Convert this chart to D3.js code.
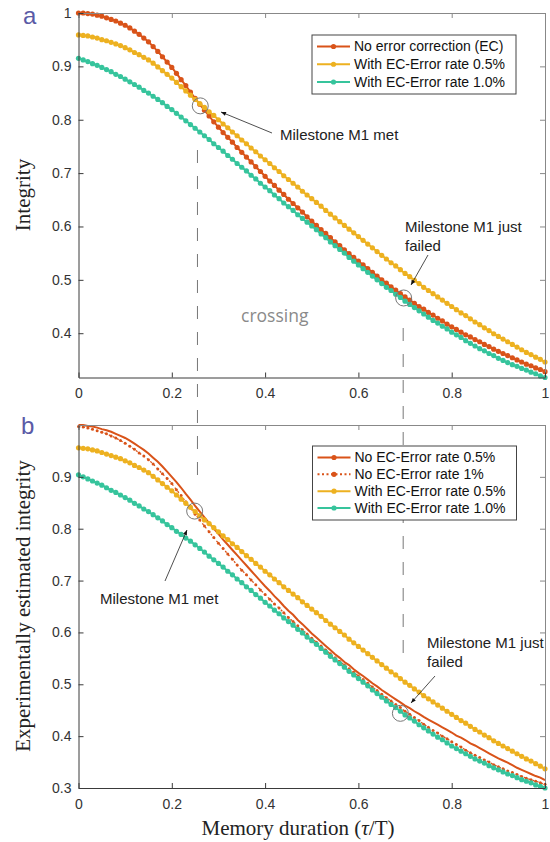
<!DOCTYPE html>
<html>
<head>
<meta charset="utf-8">
<script src="https://cdn.jsdelivr.net/npm/d3@7"></script>
<style>
  body { margin: 0; background: #fff; }
</style>
</head>
<body>
<div id="chart"></div>
<script>
// sample step along tau/T (101 samples from 0 to 1)
var tStep = 0.01;

// panel a
var noEC_a = [
  1.000, 1.000, 0.999, 0.998, 0.996, 0.994, 0.991, 0.988, 0.985, 0.981,
  0.977, 0.972, 0.966, 0.960, 0.953, 0.946, 0.937, 0.928, 0.918, 0.908,
  0.898, 0.887, 0.875, 0.864, 0.852, 0.840, 0.829, 0.818, 0.807, 0.796,
  0.786, 0.776, 0.767, 0.758, 0.748, 0.739, 0.730, 0.721, 0.712, 0.703,
  0.694, 0.685, 0.677, 0.668, 0.660, 0.651, 0.643, 0.635, 0.627, 0.618,
  0.610, 0.602, 0.594, 0.587, 0.579, 0.571, 0.564, 0.556, 0.549, 0.542,
  0.535, 0.528, 0.521, 0.514, 0.507, 0.500, 0.494, 0.487, 0.481, 0.474,
  0.468, 0.462, 0.456, 0.450, 0.445, 0.439, 0.434, 0.428, 0.423, 0.417,
  0.412, 0.407, 0.402, 0.397, 0.393, 0.388, 0.384, 0.379, 0.375, 0.370,
  0.366, 0.362, 0.358, 0.354, 0.350, 0.346, 0.342, 0.339, 0.335, 0.332,
  0.328];
var ec05_a = [
  0.959, 0.958, 0.957, 0.955, 0.953, 0.950, 0.948, 0.945, 0.942, 0.939,
  0.935, 0.931, 0.926, 0.922, 0.917, 0.912, 0.906, 0.899, 0.892, 0.885,
  0.878, 0.870, 0.862, 0.854, 0.846, 0.838, 0.830, 0.823, 0.815, 0.808,
  0.800, 0.792, 0.785, 0.777, 0.770, 0.762, 0.755, 0.747, 0.740, 0.732,
  0.725, 0.718, 0.710, 0.703, 0.695, 0.688, 0.681, 0.674, 0.666, 0.659,
  0.652, 0.645, 0.638, 0.630, 0.623, 0.616, 0.609, 0.602, 0.595, 0.588,
  0.581, 0.574, 0.567, 0.560, 0.553, 0.546, 0.539, 0.532, 0.526, 0.519,
  0.512, 0.506, 0.499, 0.493, 0.486, 0.480, 0.474, 0.468, 0.462, 0.456,
  0.450, 0.444, 0.438, 0.433, 0.427, 0.421, 0.416, 0.410, 0.405, 0.399,
  0.394, 0.389, 0.384, 0.379, 0.374, 0.369, 0.364, 0.360, 0.355, 0.351,
  0.346];
var ec10_a = [
  0.915, 0.912, 0.909, 0.905, 0.902, 0.898, 0.894, 0.890, 0.885, 0.881,
  0.876, 0.871, 0.866, 0.861, 0.855, 0.850, 0.844, 0.838, 0.832, 0.825,
  0.819, 0.812, 0.805, 0.798, 0.791, 0.784, 0.777, 0.770, 0.763, 0.755,
  0.748, 0.741, 0.733, 0.726, 0.718, 0.711, 0.704, 0.696, 0.689, 0.681,
  0.674, 0.667, 0.659, 0.652, 0.644, 0.637, 0.630, 0.622, 0.615, 0.608,
  0.601, 0.594, 0.586, 0.579, 0.571, 0.564, 0.557, 0.550, 0.542, 0.535,
  0.528, 0.521, 0.514, 0.507, 0.500, 0.493, 0.486, 0.480, 0.473, 0.467,
  0.460, 0.454, 0.448, 0.442, 0.436, 0.430, 0.424, 0.419, 0.413, 0.408,
  0.402, 0.397, 0.392, 0.386, 0.381, 0.376, 0.371, 0.367, 0.362, 0.358,
  0.353, 0.349, 0.345, 0.341, 0.338, 0.334, 0.331, 0.327, 0.324, 0.320,
  0.317];

// panel b
var noEC05_b = [
  1.000, 1.000, 0.998, 0.997, 0.995, 0.992, 0.990, 0.987, 0.983, 0.979,
  0.975, 0.970, 0.964, 0.958, 0.952, 0.945, 0.937, 0.929, 0.920, 0.910,
  0.900, 0.890, 0.879, 0.867, 0.856, 0.844, 0.833, 0.822, 0.811, 0.800,
  0.790, 0.779, 0.769, 0.759, 0.749, 0.739, 0.729, 0.719, 0.709, 0.699,
  0.689, 0.680, 0.670, 0.661, 0.651, 0.642, 0.634, 0.624, 0.616, 0.607,
  0.598, 0.590, 0.582, 0.574, 0.566, 0.558, 0.551, 0.543, 0.537, 0.529,
  0.522, 0.516, 0.509, 0.502, 0.496, 0.489, 0.483, 0.477, 0.471, 0.465,
  0.459, 0.454, 0.448, 0.443, 0.437, 0.432, 0.427, 0.422, 0.417, 0.412,
  0.407, 0.401, 0.397, 0.392, 0.386, 0.382, 0.377, 0.372, 0.367, 0.362,
  0.357, 0.353, 0.349, 0.344, 0.339, 0.335, 0.331, 0.327, 0.323, 0.320,
  0.315];
var noEC1_b = [
  0.997, 0.996, 0.994, 0.992, 0.989, 0.986, 0.983, 0.979, 0.975, 0.970,
  0.965, 0.959, 0.953, 0.946, 0.940, 0.933, 0.925, 0.915, 0.906, 0.897,
  0.887, 0.875, 0.864, 0.852, 0.840, 0.828, 0.817, 0.805, 0.794, 0.783,
  0.772, 0.762, 0.751, 0.741, 0.730, 0.720, 0.711, 0.701, 0.692, 0.682,
  0.673, 0.664, 0.655, 0.647, 0.638, 0.629, 0.621, 0.613, 0.605, 0.597,
  0.589, 0.581, 0.574, 0.566, 0.559, 0.551, 0.544, 0.537, 0.530, 0.523,
  0.516, 0.509, 0.502, 0.495, 0.488, 0.481, 0.474, 0.468, 0.461, 0.455,
  0.448, 0.442, 0.436, 0.430, 0.423, 0.417, 0.411, 0.406, 0.400, 0.395,
  0.389, 0.384, 0.379, 0.373, 0.368, 0.363, 0.359, 0.354, 0.350, 0.345,
  0.341, 0.337, 0.333, 0.330, 0.326, 0.322, 0.319, 0.316, 0.313, 0.310,
  0.307];
var ec05_b = [
  0.956, 0.955, 0.954, 0.952, 0.950, 0.947, 0.944, 0.941, 0.938, 0.935,
  0.931, 0.927, 0.922, 0.918, 0.913, 0.908, 0.901, 0.894, 0.887, 0.880,
  0.873, 0.865, 0.857, 0.849, 0.841, 0.833, 0.825, 0.817, 0.810, 0.802,
  0.794, 0.786, 0.779, 0.771, 0.764, 0.756, 0.748, 0.741, 0.733, 0.726,
  0.718, 0.711, 0.703, 0.696, 0.688, 0.681, 0.674, 0.667, 0.659, 0.652,
  0.645, 0.638, 0.631, 0.623, 0.616, 0.609, 0.602, 0.595, 0.587, 0.580,
  0.573, 0.566, 0.559, 0.552, 0.545, 0.538, 0.531, 0.524, 0.518, 0.511,
  0.504, 0.498, 0.491, 0.485, 0.478, 0.472, 0.466, 0.460, 0.454, 0.448,
  0.442, 0.436, 0.430, 0.425, 0.419, 0.413, 0.408, 0.402, 0.397, 0.391,
  0.386, 0.381, 0.376, 0.371, 0.366, 0.361, 0.356, 0.352, 0.347, 0.342,
  0.337];
var ec10_b = [
  0.904, 0.900, 0.896, 0.892, 0.888, 0.884, 0.879, 0.874, 0.870, 0.865,
  0.860, 0.855, 0.849, 0.844, 0.838, 0.833, 0.827, 0.821, 0.815, 0.808,
  0.802, 0.795, 0.789, 0.782, 0.776, 0.769, 0.762, 0.755, 0.747, 0.740,
  0.733, 0.726, 0.718, 0.711, 0.703, 0.696, 0.688, 0.681, 0.673, 0.666,
  0.658, 0.651, 0.643, 0.636, 0.628, 0.621, 0.614, 0.606, 0.599, 0.591,
  0.584, 0.577, 0.569, 0.562, 0.554, 0.547, 0.540, 0.533, 0.525, 0.518,
  0.511, 0.504, 0.497, 0.489, 0.482, 0.475, 0.468, 0.461, 0.455, 0.448,
  0.441, 0.435, 0.429, 0.422, 0.416, 0.410, 0.404, 0.398, 0.393, 0.387,
  0.381, 0.376, 0.371, 0.366, 0.361, 0.356, 0.352, 0.348, 0.343, 0.339,
  0.335, 0.331, 0.327, 0.324, 0.320, 0.316, 0.313, 0.310, 0.306, 0.303,
  0.300];

var xTicks = [0, 0.2, 0.4, 0.6, 0.8, 1];
var yTicksA = [0.4, 0.5, 0.6, 0.7, 0.8, 0.9, 1];
var yTicksB = [0.3, 0.4, 0.5, 0.6, 0.7, 0.8, 0.9];
var legendA = ["No error correction (EC)", "With EC-Error rate 0.5%", "With EC-Error rate 1.0%"];
var legendB = ["No EC-Error rate 0.5%", "No EC-Error rate 1%", "With EC-Error rate 0.5%", "With EC-Error rate 1.0%"];
// milestone points [tau/T, integrity]
var milestonesA = [[0.261, 0.826], [0.697, 0.466]];
var milestonesB = [[0.249, 0.834], [0.690, 0.444]];

var RED = "#d95319", YEL = "#edb120", GRN = "#36c49c";
var SANS = "Liberation Sans, Arial, sans-serif";
var SERIF = "Liberation Serif, Times New Roman, serif";

var svg = d3.select("#chart").append("svg")
    .attr("width", 550).attr("height", 842)
    .attr("font-family", SANS);

svg.append("defs").append("marker")
    .attr("id", "arrow")
    .attr("viewBox", "0 0 10 10")
    .attr("refX", 10).attr("refY", 5)
    .attr("markerWidth", 11).attr("markerHeight", 5)
    .attr("markerUnits", "userSpaceOnUse")
    .attr("orient", "auto")
    .append("path").attr("d", "M0,1 L10,5 L0,9 Z").attr("fill", "#111");

var x = d3.scaleLinear().domain([0, 1]).range([78.5, 545]);
var yA = d3.scaleLinear().domain([0.317, 1]).range([377.5, 13]);
var yB = d3.scaleLinear().domain([0.3, 1]).range([788, 425]);

var fmt = function(d) { return String(d); };

function styleAxis(g, col) {
    g.attr("font-size", 14).attr("font-family", SANS);
    g.selectAll(".domain").attr("stroke", col);
    g.selectAll(".tick line").attr("stroke", col);
    g.selectAll(".tick text").attr("fill", "#333");
}

function drawFrame(y, yTicks) {
    var top = y.range()[1], bottom = y.range()[0];
    svg.append("g").attr("transform", "translate(0," + top + ")")
        .call(d3.axisTop(x).tickValues(xTicks).tickSize(-5).tickSizeOuter(0).tickFormat(""))
        .call(styleAxis, "#888");
    svg.append("g").attr("transform", "translate(545,0)")
        .call(d3.axisRight(y).tickValues(yTicks).tickSize(-5).tickSizeOuter(0).tickFormat(""))
        .call(styleAxis, "#888");
    svg.append("g").attr("transform", "translate(0," + bottom + ")")
        .call(d3.axisBottom(x).tickValues(xTicks).tickSize(-5).tickSizeOuter(0).tickPadding(11).tickFormat(fmt))
        .call(styleAxis, "#3a3a3a");
    svg.append("g").attr("transform", "translate(78.5,0)")
        .call(d3.axisLeft(y).tickValues(yTicks).tickSize(-5).tickSizeOuter(0).tickPadding(7).tickFormat(fmt))
        .call(styleAxis, "#3a3a3a");
}

function drawSeries(y, vals, color, opt) {
    var pts = vals.map(function(v, i) { return [i * tStep, v]; });
    var line = d3.line().x(function(d) { return x(d[0]); }).y(function(d) { return y(d[1]); });
    var g = svg.append("g");
    g.append("path").datum(pts)
        .attr("d", line)
        .attr("fill", "none")
        .attr("stroke", color)
        .attr("stroke-width", opt.width)
        .attr("stroke-dasharray", opt.dash || null);
    if (opt.r) {
        g.selectAll("circle").data(pts).enter().append("circle")
            .attr("cx", function(d) { return x(d[0]); })
            .attr("cy", function(d) { return y(d[1]); })
            .attr("r", opt.r)
            .attr("fill", color);
    }
}

function drawLegend(x0, y0, w, h, labels, styles) {
    var g = svg.append("g");
    g.append("rect").attr("x", x0).attr("y", y0).attr("width", w).attr("height", h)
        .attr("fill", "#fff").attr("stroke", "#444").attr("stroke-width", 1);
    var rows = d3.scalePoint().domain(d3.range(labels.length)).range([y0 + 11.5, y0 + h - 12]);
    labels.forEach(function(lab, i) {
        var yy = rows(i), s = styles[i];
        g.append("line").attr("x1", x0 + 5).attr("x2", x0 + 38).attr("y1", yy).attr("y2", yy)
            .attr("stroke", s.color).attr("stroke-width", 2).attr("stroke-dasharray", s.dash || null);
        g.append("circle").attr("cx", x0 + 21.5).attr("cy", yy).attr("r", 2.6).attr("fill", s.color);
        g.append("text").attr("x", x0 + 42).attr("y", yy).attr("dy", "0.35em")
            .attr("font-size", 14).attr("fill", "#111").text(lab);
    });
}

function drawMilestones(y, pts) {
    svg.append("g").selectAll("circle").data(pts).enter().append("circle")
        .attr("cx", function(d) { return x(d[0]); })
        .attr("cy", function(d) { return y(d[1]); })
        .attr("r", 8).attr("fill", "none").attr("stroke", "#777").attr("stroke-width", 1);
}

function arrow(x1, y1, x2, y2) {
    svg.append("line").attr("x1", x1).attr("y1", y1).attr("x2", x2).attr("y2", y2)
        .attr("stroke", "#222").attr("stroke-width", 0.8).attr("marker-end", "url(#arrow)");
}

function note(x0, y0, lines) {
    var t = svg.append("text").attr("x", x0).attr("y", y0).attr("font-size", 15).attr("fill", "#222");
    lines.forEach(function(s, i) {
        t.append("tspan").attr("x", x0).attr("dy", i === 0 ? 0 : 19).text(s);
    });
}

// dashed guides linking the milestones of both panels
svg.append("line").attr("x1", x(0.255)).attr("x2", x(0.255)).attr("y1", 150).attr("y2", 476)
    .attr("stroke", "#777").attr("stroke-width", 1).attr("stroke-dasharray", "13,13");
svg.append("line").attr("x1", x(0.696)).attr("x2", x(0.696)).attr("y1", 328).attr("y2", 658)
    .attr("stroke", "#777").attr("stroke-width", 1).attr("stroke-dasharray", "13,13");

// ---- panel a ----
drawSeries(yA, noEC_a, RED, {width: 2, r: 2.6});
drawSeries(yA, ec05_a, YEL, {width: 2, r: 2.6});
drawSeries(yA, ec10_a, GRN, {width: 2, r: 2.6});
drawFrame(yA, yTicksA);
drawMilestones(yA, milestonesA);
drawLegend(312, 35, 204, 59, legendA, [{color: RED}, {color: YEL}, {color: GRN}]);

arrow(272, 133, 221, 112);
note(280, 140, ["Milestone M1 met"]);
arrow(428, 255, 411, 285);
note(405, 232, ["Milestone M1 just", "failed"]);
svg.append("text").attr("x", 241).attr("y", 322)
    .attr("font-family", "Open Sans, sans-serif").attr("font-size", 17.5)
    .attr("fill", "#8a8a8a").text("crossing");

// ---- panel b ----
drawSeries(yB, noEC05_b, RED, {width: 2});
drawSeries(yB, noEC1_b, RED, {width: 1.3, dash: "2,2.5", r: 1.5});
drawSeries(yB, ec05_b, YEL, {width: 2, r: 2.6});
drawSeries(yB, ec10_b, GRN, {width: 2, r: 2.6});
drawFrame(yB, yTicksB);
drawMilestones(yB, milestonesB);
drawLegend(312.5, 446, 204, 74, legendB,
    [{color: RED}, {color: RED, dash: "2,2.5"}, {color: YEL}, {color: GRN}]);

arrow(165, 581, 187, 530);
note(100, 604, ["Milestone M1 met"]);
arrow(435, 676, 411, 703);
note(427, 648, ["Milestone M1 just", "failed"]);

// panel letters
svg.append("text").attr("x", 23).attr("y", 24).attr("font-size", 24).attr("fill", "#5a5aa6").text("a");
svg.append("text").attr("x", 21).attr("y", 434).attr("font-size", 24).attr("fill", "#5a5aa6").text("b");

// axis titles
svg.append("text").attr("transform", "translate(30,195) rotate(-90)")
    .attr("text-anchor", "middle").attr("font-family", SERIF).attr("font-size", 21)
    .attr("fill", "#222").text("Integrity");
svg.append("text").attr("transform", "translate(30,606) rotate(-90)")
    .attr("text-anchor", "middle").attr("font-family", SERIF).attr("font-size", 21)
    .attr("fill", "#222").text("Experimentally estimated integrity");
var xl = svg.append("text").attr("x", 298).attr("y", 835)
    .attr("text-anchor", "middle").attr("font-family", SERIF).attr("font-size", 21)
    .attr("fill", "#222");
xl.append("tspan").text("Memory duration (");
xl.append("tspan").attr("font-style", "italic").text("\u03c4");
xl.append("tspan").text("/T)");
</script>
</body>
</html>
